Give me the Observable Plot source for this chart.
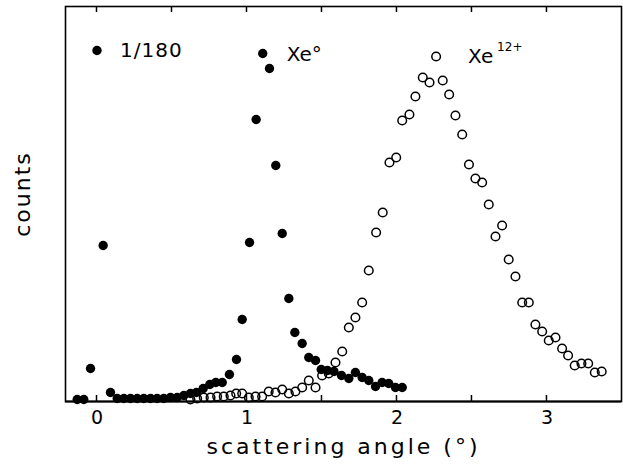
<!DOCTYPE html>
<html><head><meta charset="utf-8">
<script src="https://cdn.jsdelivr.net/npm/d3@7"></script>
<script src="https://cdn.jsdelivr.net/npm/@observablehq/plot@0.6"></script>
<style>
body{margin:0;background:#fff}
#chart svg{font-family:"DejaVu Sans",sans-serif;}
</style>
</head><body><div id="chart"></div>
<script>
// Xe0 (filled dots); the point at 0.00 is drawn scaled by 1/180
const xe0Angle = [-0.132,-0.088,-0.043,0.000,0.041,0.090,0.135,0.179,0.223,0.268,0.312,0.357,0.401,0.445,0.490,0.535,0.579,0.623,0.663,0.708,0.752,0.792,0.835,0.883,0.930,0.968,1.017,1.061,1.105,1.150,1.192,1.235,1.279,1.319,1.368,1.412,1.457,1.495,1.537,1.580,1.630,1.679,1.723,1.768,1.812,1.857,1.901,1.945,1.990,2.035];
const xe0Counts = [2,2,33,351,156,9,3,3,3,3,3,3,3,3,4,4,6,8,9,13,17,19,19,27,42,82,159,282,348,333,236,168,103,69,58,44,41,32,31,30,26,23,29,24,21,15,19,18,14,14];
// Xe12+ (open circles)
const xe12Angle = [0.623,0.668,0.712,0.757,0.801,0.845,0.890,0.928,0.968,1.012,1.057,1.101,1.145,1.190,1.235,1.279,1.323,1.368,1.412,1.457,1.501,1.545,1.590,1.635,1.679,1.723,1.768,1.812,1.861,1.905,1.950,1.995,2.035,2.083,2.123,2.172,2.217,2.261,2.305,2.348,2.390,2.435,2.480,2.523,2.568,2.612,2.657,2.701,2.745,2.790,2.835,2.879,2.923,2.968,3.012,3.057,3.101,3.141,3.185,3.230,3.275,3.319,3.365];
const xe12Counts = [2,3,4,4,5,5,6,8,8,4,5,5,10,9,12,8,10,14,21,14,26,28,39,50,74,84,99,131,169,189,239,244,281,287,305,324,319,345,321,307,286,267,237,223,219,197,165,176,142,125,99,99,77,70,61,64,53,46,36,38,38,29,30];
const xTickLabels = [0,1,2,3];
const xTickMarks = [0,0.5,1,1.5,2,2.5,3];
const xLabel = "scattering angle (°)";
const yLabel = "counts";
const scaleNote = "1/180";
const label0 = "Xe°";
const label12 = "Xe";
const label12sup = "12+";

const xe0 = xe0Angle.map((a,i)=>({angle:a,counts:xe0Counts[i]}));
const xe12 = xe12Angle.map((a,i)=>({angle:a,counts:xe12Counts[i]}));
const scaledPt = xe0.filter(d=>d.angle===0);
const peak0 = [xe0.reduce((m,d)=>d.counts>m.counts&&d.angle!==0?d:m, {counts:-1})];
const peak12 = [xe12.reduce((m,d)=>d.counts>m.counts?d:m, xe12[0])];

const H = 467, MT = 6, MB = 66, TICK = 6;

const plot = Plot.plot({
  width:623, height:H,
  marginLeft:65, marginRight:2, marginTop:MT, marginBottom:MB,
  x:{domain:[-0.21,3.497]},
  y:{domain:[0,395], axis:null},
  marks:[
    Plot.frame({stroke:"#000", strokeWidth:1.6}),
    Plot.ruleY([0],{stroke:"#000", strokeWidth:2.2}),
    Plot.axisX({anchor:"bottom", ticks:xTickLabels, tickSize:0, tickPadding:9, tickFormat:"d", fontSize:19, label:null, fill:"#000"}),
    Plot.text([xLabel],{text:d=>d, frameAnchor:"bottom", dy:52, fontSize:22, fill:"#000"}),
    Plot.text([yLabel],{text:d=>d, frameAnchor:"left", textAnchor:"middle", rotate:-90, dx:-43, dy:-10, fontSize:22, fill:"#000"}),
    Plot.dot(xe12,{x:"angle", y:"counts", r:4.3, stroke:"#000", strokeWidth:1.5, fill:"none"}),
    Plot.dot(xe0,{x:"angle", y:"counts", r:4.7, fill:"#000", stroke:"none"}),
    Plot.text(scaledPt,{x:"angle", y:"counts", text:()=>scaleNote, dx:23, textAnchor:"start", fontSize:20, fill:"#000"}),
    Plot.text(peak0,{x:"angle", y:"counts", text:()=>label0, dx:24, dy:1, textAnchor:"start", fontSize:20, fill:"#000"}),
    Plot.text(peak12,{x:"angle", y:"counts", text:()=>label12, dx:32, dy:0, textAnchor:"start", fontSize:20, fill:"#000"}),
    Plot.text(peak12,{x:"angle", y:"counts", text:()=>label12sup, dx:61, dy:-9, textAnchor:"start", fontSize:12, fill:"#000"})
  ]
});
// inward tick marks at top and bottom, placed with the plot's own x scale
const xs = plot.scale("x");
const svg = d3.select(plot);
const g = svg.append("g").attr("aria-label","inward ticks");
for (const t of xTickMarks) {
  const px = xs.apply(t);
  for (const [y1,y2] of [[MT, MT+TICK],[H-MB, H-MB-TICK]]) {
    g.append("line").attr("x1",px).attr("x2",px).attr("y1",y1).attr("y2",y2)
      .attr("stroke","#000").attr("stroke-width",1.5).style("stroke","#000");
  }
}
svg.selectAll("text").filter(function(){return this.textContent===xLabel;}).style("letter-spacing","3px");
svg.selectAll("text").filter(function(){return this.textContent===yLabel;}).style("letter-spacing","2px");
svg.selectAll("text").filter(function(){return this.textContent===scaleNote;}).style("letter-spacing","1px");
document.getElementById("chart").appendChild(plot);
</script>
</body></html>
